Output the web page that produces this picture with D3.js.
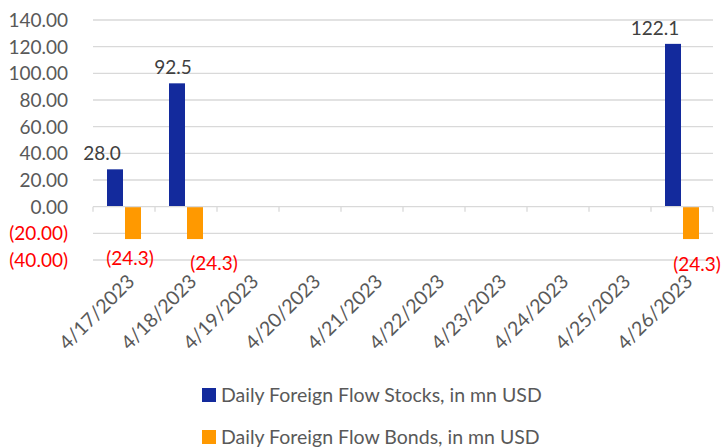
<!DOCTYPE html>
<html>
<head>
<meta charset="utf-8">
<script src="https://cdn.jsdelivr.net/npm/d3@7"></script>
<style>
  body { margin: 0; background: #fff; }
  svg text { font-family: Lato, "Open Sans", sans-serif; }
</style>
</head>
<body>
<svg width="723" height="448"></svg>
<script>
var width = 723,
    height = 448;

// data
var dates = ["4/17/2023", "4/18/2023", "4/19/2023", "4/20/2023", "4/21/2023",
             "4/22/2023", "4/23/2023", "4/24/2023", "4/25/2023", "4/26/2023"];
var stocks = [28.0, 92.5, null, null, null, null, null, null, null, 122.1];
var bonds = [-24.3, -24.3, null, null, null, null, null, null, null, -24.3];
var yTicks = [-40, -20, 0, 20, 40, 60, 80, 100, 120, 140];
var seriesNames = ["Daily Foreign Flow Stocks, in mn USD", "Daily Foreign Flow Bonds, in mn USD"];
var seriesColors = ["#132a9c", "#ff9900"];

// label nudges (Excel placed them a bit off-centre)
var stockLabelDx = [-13, -4, 0, 0, 0, 0, 0, 0, 0, -18];
var bondLabelDx = [-3, 19, 0, 0, 0, 0, 0, 0, 0, 6];
var bondLabelDy = [0, 5, 0, 0, 0, 0, 0, 0, 0, 6];

var svg = d3.select("svg");

var x = d3.scaleBand()
    .domain(dates)
    .range([93, 713]);

var y = d3.scaleLinear()
    .domain([-40, 140])
    .range([260, 20]);

var barW = 16, barGap = 2;

function fmt(v) {
  return v < 0 ? "(" + d3.format(".2f")(-v) + ")" : d3.format(".2f")(v);
}
function fmt1(v) {
  return v < 0 ? "(" + d3.format(".1f")(-v) + ")" : d3.format(".1f")(v);
}

// gridlines
svg.append("g")
  .selectAll("line")
  .data(yTicks.filter(function(d) { return d != 0; }))
  .enter().append("line")
  .attr("x1", 93).attr("x2", 713)
  .attr("y1", function(d) { return y(d); })
  .attr("y2", function(d) { return y(d); })
  .attr("stroke", "#d9d9d9")
  .attr("stroke-width", 1.3);

// y labels
svg.append("g")
  .selectAll("text")
  .data(yTicks)
  .enter().append("text")
  .attr("x", 68)
  .attr("y", function(d) { return y(d); })
  .attr("dy", "0.36em")
  .attr("text-anchor", "end")
  .attr("font-size", 19)
  .attr("fill", function(d) { return d < 0 ? "#ff0000" : "#595959"; })
  .text(fmt);

// bars
var bars = svg.append("g");
bars.selectAll("rect.stock")
  .data(dates.map(function(d, i) { return {date: d, v: stocks[i]}; }).filter(function(d) { return d.v != null; }))
  .enter().append("rect")
  .attr("class", "stock")
  .attr("x", function(d) { return x(d.date) + x.bandwidth() / 2 - barW - barGap / 2; })
  .attr("width", barW)
  .attr("y", function(d) { return y(d.v); })
  .attr("height", function(d) { return y(0) - y(d.v); })
  .attr("fill", seriesColors[0]);

bars.selectAll("rect.bond")
  .data(dates.map(function(d, i) { return {date: d, v: bonds[i]}; }).filter(function(d) { return d.v != null; }))
  .enter().append("rect")
  .attr("class", "bond")
  .attr("x", function(d) { return x(d.date) + x.bandwidth() / 2 + barGap / 2; })
  .attr("width", barW)
  .attr("y", y(0))
  .attr("height", function(d) { return y(d.v) - y(0); })
  .attr("fill", seriesColors[1]);

// x axis line + ticks between categories
var axis = svg.append("g");
axis.append("line")
  .attr("x1", 93).attr("x2", 713)
  .attr("y1", y(0)).attr("y2", y(0))
  .attr("stroke", "#d9d9d9")
  .attr("stroke-width", 1.3);
axis.selectAll("line.tick")
  .data(dates.concat(["end"]))
  .enter().append("line")
  .attr("class", "tick")
  .attr("x1", function(d, i) { return 93 + i * x.bandwidth(); })
  .attr("x2", function(d, i) { return 93 + i * x.bandwidth(); })
  .attr("y1", y(0)).attr("y2", y(0) + 5)
  .attr("stroke", "#d9d9d9")
  .attr("stroke-width", 1.3);

// x labels
axis.selectAll("text")
  .data(dates)
  .enter().append("text")
  .attr("transform", function(d) {
    return "translate(" + (x(d) + x.bandwidth() / 2 + 2) + "," + 273 + ") rotate(-45)";
  })
  .attr("text-anchor", "end")
  .attr("dy", "0.7em")
  .attr("font-size", 19.5)
  .attr("fill", "#595959")
  .text(function(d) { return d; });

// data labels
var labels = svg.append("g").attr("font-size", 19);
dates.forEach(function(d, i) {
  var cx = x(d) + x.bandwidth() / 2;
  if (stocks[i] != null) {
    labels.append("text")
      .attr("x", cx - barW / 2 - barGap / 2 + stockLabelDx[i])
      .attr("y", y(stocks[i]) - 9)
      .attr("text-anchor", "middle")
      .attr("fill", "#404040")
      .text(fmt1(stocks[i]));
  }
  if (bonds[i] != null) {
    labels.append("text")
      .attr("x", cx + barW / 2 + barGap / 2 + bondLabelDx[i])
      .attr("y", y(bonds[i]) + 26 + bondLabelDy[i])
      .attr("text-anchor", "middle")
      .attr("fill", "#ff0000")
      .text(fmt1(bonds[i]));
  }
});

// legend
var legend = svg.append("g")
  .selectAll("g")
  .data(seriesNames)
  .enter().append("g")
  .attr("transform", function(d, i) { return "translate(202," + (388 + i * 42) + ")"; });
legend.append("rect")
  .attr("width", 14).attr("height", 14)
  .attr("fill", function(d, i) { return seriesColors[i]; });
legend.append("text")
  .attr("x", 19)
  .attr("y", 14)
  .attr("font-size", 19.5)
  .attr("fill", "#595959")
  .text(function(d) { return d; });
</script>
</body>
</html>
